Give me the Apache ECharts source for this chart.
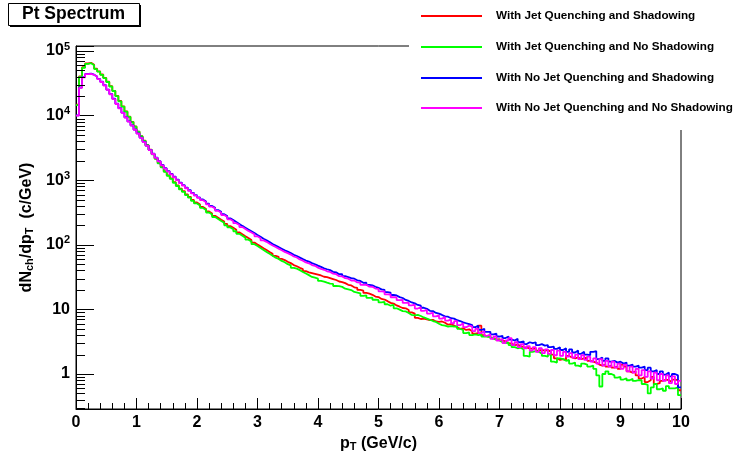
<!DOCTYPE html>
<html>
<head>
<meta charset="utf-8">
<script src="https://cdn.jsdelivr.net/npm/echarts@6/dist/echarts.min.js"></script>
<style>
html,body{margin:0;padding:0;background:#fff;}
#chart{width:737px;height:451px;}
</style>
</head>
<body>
<div id="chart"></div>
<script>
// ---- Data ----
const xMin = 0, xMax = 10, binWidth = 0.05;
const yMin = 0.287, yMax = 119400;
const seriesNames = [
  'With Jet Quenching and Shadowing',
  'With Jet Quenching and No Shadowing',
  'With No Jet Quenching and Shadowing',
  'With No Jet Quenching and No Shadowing'
];
const seriesColors = ['#ff0000', '#00ff00', '#0000ff', '#ff00ff'];
const xTickLabels = ['0','1','2','3','4','5','6','7','8','9','10'];

const redValues = [
 14800, 40500, 56000, 64000, 65500, 61000, 53300, 48500, 43200, 38400,
 33400, 28500, 24200, 20200, 16800, 13900, 11600, 9620, 8000, 6800,
 5660, 4820, 4100, 3500, 2980, 2530, 2160, 1840, 1600, 1370,
 1190, 1070, 930, 830, 742, 678, 605, 552, 494, 451,
 420, 385, 359, 328, 306, 280, 262, 244, 229, 210,
 195, 183, 171, 156, 146, 136, 127, 119, 108, 101,
 94.5, 88.5, 83, 77.5, 72.5, 67.5, 65, 60.5, 58, 54.5,
 52, 48.5, 46.5, 44, 42, 39, 37.5, 36.5, 35.5, 34.5,
 33.5, 32.0, 31.5, 30.5, 29.5, 28.5, 27.0, 26.5, 25.5, 24.0,
 23.5, 22.0, 21.5, 20.0, 19.5, 18.0, 17.5, 16.8, 15.8, 15.5,
 14.5, 14.2, 13.4, 12.6, 12.3, 11.5, 11.0, 10.5, 10.4, 9.8,
 9.0, 8.6, 7.4, 7.1, 7.2, 7.0, 6.8, 6.9, 6.5, 6.4,
 6.5, 6.2, 5.8, 5.9, 5.6, 5.3, 5.0, 5.1, 4.8, 4.9,
 4.6, 4.2, 4.3, 5.6, 4.0, 3.8, 3.9, 3.6, 3.4, 3.45,
 3.3, 3.2, 3.0, 2.95, 2.8, 2.85, 2.7, 2.6, 2.55, 2.5,
 2.45, 2.5, 2.3, 2.35, 2.3, 2.35, 2.2, 2.0, 1.75, 1.65,
 1.7, 1.65, 1.9, 1.8, 1.75, 1.8, 1.7, 1.75, 1.8, 1.6,
 1.55, 1.5, 1.4, 1.35, 1.4, 1.3, 1.35, 1.25, 1.3, 1.2,
 1.4, 1.3, 1.1, 1.05, 1.1, 0.95, 0.85, 0.9, 0.75, 0.8,
 0.9, 0.7, 0.72, 0.78, 0.82, 0.8, 0.75, 0.82, 0.8, 0.56
];
const greenValues = [
 14500, 39800, 55000, 63100, 64600, 60300, 52500, 47900, 42700, 38000,
 33100, 28200, 24000, 20000, 16600, 13800, 11500, 9550, 7940, 6760,
 5620, 4790, 4070, 3470, 2950, 2510, 2140, 1820, 1580, 1350,
 1170, 1050, 912, 813, 724, 661, 589, 537, 479, 437,
 407, 372, 347, 316, 295, 269, 251, 234, 219, 200,
 186, 174, 162, 148, 138, 129, 120, 112, 102, 95.5,
 89.1, 83.2, 77.6, 72.4, 67.6, 63.1, 60.3, 56.2, 53.7, 50.1,
 47.9, 44.0, 42.7, 40.5, 38.0, 36.0, 33.9, 31.8, 30.9, 29.9,
 27.6, 26.9, 25.9, 25.1, 24.8, 23.0, 22.9, 22.3, 20.9, 20.4,
 19.9, 18.6, 18.2, 17.7, 16.2, 16.5, 15.1, 15.2, 14.1, 14.0,
 12.8, 13.1, 12.0, 11.4, 11.8, 10.4, 9.9, 9.4, 9.3, 8.8,
 8.2, 8.1, 8.2, 7.9, 7.5, 7.2, 6.9, 6.6, 6.4, 6.0,
 5.7, 5.6, 5.4, 5.5, 5.4, 5.5, 5.0, 4.8, 4.3, 4.4,
 4.0, 4.1, 4.0, 4.1, 3.8, 3.8, 3.7, 3.5, 3.4, 3.3,
 3.1, 3.0, 3.05, 2.8, 2.6, 2.5, 2.55, 2.4, 1.9, 1.85,
 2.2, 2.25, 2.2, 2.05, 1.9, 1.85, 2.0, 1.55, 1.5, 1.75,
 1.7, 1.6, 1.65, 1.45, 1.5, 1.35, 1.3, 1.45, 1.4, 1.3,
 1.35, 1.2, 0.95, 0.64, 1.0, 1.1, 1.0, 0.95, 0.88, 0.9,
 0.82, 0.86, 0.8, 0.84, 0.78, 0.8, 0.8, 0.7, 0.68, 0.5,
 0.62, 0.7, 0.58, 0.6, 0.55, 0.65, 0.6, 0.6, 0.62, 0.47
];
const blueValues = [
 10100, 27200, 39300, 44200, 44600, 43000, 40200, 37000, 33400, 29500,
 25300, 21600, 18200, 15300, 13000, 11100, 9420, 8120, 7070, 6090,
 5300, 4570, 3930, 3420, 2950, 2570, 2240, 1970, 1720, 1530,
 1380, 1250, 1130, 1020, 918, 838, 765, 698, 637, 588,
 543, 502, 468, 433, 400, 373, 345, 323, 298, 278,
 257, 241, 225, 210, 196, 184, 172, 162, 152, 142,
 133, 124, 117, 110, 103, 97.5, 92, 87, 82, 78.5,
 74.5, 70, 67, 63.5, 60, 57, 55, 52, 50, 47.5,
 45.5, 43.2, 41.8, 40.5, 38.2, 37.4, 35.0, 35.2, 32.6, 31.6,
 30.5, 29.8, 28.2, 27.5, 25.8, 25.9, 23.9, 23.5, 22.4, 21.5,
 20.4, 20.1, 18.5, 18.2, 16.7, 16.4, 15.5, 15.0, 14.0, 13.5,
 12.8, 12.4, 11.7, 11.4, 10.6, 10.2, 9.5, 9.4, 8.8, 8.6,
 8.2, 7.8, 7.7, 7.3, 7.2, 6.8, 6.6, 6.3, 6.1, 5.9,
 5.7, 5.3, 5.6, 4.8, 5.0, 4.5, 4.5, 4.1, 4.2, 3.8,
 3.9, 3.6, 3.8, 3.4, 3.3, 3.5, 3.1, 3.2, 2.9, 3.1,
 3.0, 3.1, 2.8, 2.9, 2.75, 2.8, 2.6, 2.65, 2.45, 2.6,
 2.35, 2.5, 2.2, 2.4, 2.15, 2.3, 2.05, 2.2, 2.0, 1.95,
 2.2, 2.25, 1.7, 1.8, 1.6, 1.75, 1.55, 1.6, 1.5, 1.55,
 1.45, 1.5, 1.35, 1.4, 1.3, 1.35, 1.25, 1.3, 1.15, 1.25,
 1.1, 1.15, 1.0, 1.1, 0.98, 1.05, 0.92, 1.0, 0.95, 0.62
];
const magentaValues = [
 10000, 26900, 38900, 43700, 44200, 42700, 39800, 36700, 33100, 29200,
 25100, 21400, 18000, 15100, 12900, 11000, 9330, 8040, 7000, 6030,
 5250, 4520, 3890, 3390, 2920, 2540, 2210, 1950, 1700, 1510,
 1360, 1230, 1110, 1000, 902, 822, 750, 684, 624, 575,
 531, 490, 457, 422, 389, 363, 335, 313, 288, 269,
 248, 232, 216, 202, 188, 176, 164, 155, 145, 135,
 126, 117, 111, 104, 97.7, 92.3, 87.1, 82.2, 77.6, 74.1,
 70.5, 65.8, 63.5, 59.2, 56.8, 53.2, 51.6, 48.5, 47.2, 44.3,
 42.2, 41.0, 38.9, 37.9, 35.8, 35.0, 32.6, 32.4, 30.4, 29.9,
 28.0, 27.9, 26.1, 26.0, 24.0, 24.1, 22.5, 22.4, 21.0, 20.8,
 19.0, 18.9, 17.1, 17.0, 15.4, 15.3, 13.9, 14.0, 12.6, 12.7,
 11.5, 11.8, 10.3, 10.8, 9.5, 9.8, 8.6, 8.9, 7.8, 8.1,
 7.2, 7.6, 6.7, 7.0, 6.1, 6.6, 5.7, 6.1, 5.3, 5.6,
 5.4, 4.6, 5.0, 4.3, 4.6, 3.9, 4.1, 3.5, 3.8, 3.3,
 3.5, 3.0, 3.3, 3.6, 2.8, 3.1, 2.6, 2.9, 2.5, 2.7,
 2.3, 2.6, 2.2, 2.5, 2.1, 2.4, 2.05, 2.35, 1.95, 2.3,
 1.9, 2.2, 1.85, 2.1, 1.8, 2.0, 1.7, 1.95, 1.65, 1.85,
 1.55, 1.75, 1.45, 1.7, 1.35, 1.6, 1.3, 1.55, 1.25, 1.45,
 1.2, 1.4, 1.1, 1.3, 1.05, 1.2, 0.95, 1.15, 0.9, 1.1,
 0.85, 1.05, 0.8, 1.0, 0.78, 0.95, 0.72, 0.92, 0.7, 0.78
];
const allValues = [redValues, greenValues, blueValues, magentaValues];

// ---- Helpers ----
const FONT = "'Liberation Sans', Arial, Helvetica, sans-serif";
function toSteps(vals) {
  const d = vals.map((v, i) => [+(xMin + i * binWidth).toFixed(3), v]);
  d.push([xMax, vals[vals.length - 1]]);
  return d;
}
// minor tick values for the log axis (2..9 x 10^n)
const yMinorTicks = [];
for (let e = -1; e <= 5; e++) {
  for (let m = 2; m <= 9; m++) {
    const v = m * Math.pow(10, e);
    if (v > yMin && v < yMax) yMinorTicks.push([xMin, v]);
  }
}

const chart = echarts.init(document.getElementById('chart'), null, {renderer: 'canvas'});

const series = seriesNames.map((name, k) => ({
  name: name,
  type: 'line',
  step: 'end',
  data: toSteps(allValues[k]),
  symbol: 'none',
  showSymbol: false,
  silent: true,
  animation: false,
  lineStyle: {color: seriesColors[k], width: 1.8},
  itemStyle: {color: seriesColors[k]},
  z: 3
}));
series.push({
  type: 'custom',
  silent: true,
  animation: false,
  data: yMinorTicks,
  encode: {x: 0, y: 1},
  z: 4,
  renderItem: function (params, api) {
    const p = api.coord([api.value(0), api.value(1)]);
    const y = Math.round(p[1]) + 0.5;
    return {
      type: 'line',
      shape: {x1: p[0], y1: y, x2: p[0] + 9, y2: y},
      style: {stroke: '#000', lineWidth: 1}
    };
  }
});

const legendTops = [9, 40, 71, 101];
const legends = seriesNames.map((name, k) => ({
  data: [name],
  left: 421,
  top: legendTops[k],
  padding: 0,
  orient: 'vertical',
  icon: 'rect',
  itemWidth: 61,
  itemHeight: 2,
  selectedMode: false,
  z: 60,
  textStyle: {
    fontFamily: FONT, fontSize: 11.7, fontWeight: 'bold', color: '#000',
    lineHeight: 14, padding: [0, 0, 0, 9]
  }
}));

const option = {
  animation: false,
  backgroundColor: '#fff',
  grid: {left: 76, right: 56, top: 46, bottom: 42, show: true, borderColor: '#000', borderWidth: 1,
         containLabel: false, outerBoundsMode: 'none'},
  xAxis: {
    type: 'value', min: xMin, max: xMax, interval: 1,
    axisLine: {show: true, onZero: false, lineStyle: {color: '#000', width: 1}},
    axisTick: {show: true, inside: true, length: 11, lineStyle: {color: '#000'}},
    minorTick: {show: true, splitNumber: 5, length: 6, lineStyle: {color: '#000'}},
    splitLine: {show: false},
    axisLabel: {
      fontFamily: FONT, fontSize: 16, fontWeight: 'bold', color: '#000', margin: 6,
      formatter: function (v) { return xTickLabels[Math.round(v)] || ''; }
    },
    name: '{b|p}{s|T}{b| (GeV/c)}',
    nameLocation: 'middle', nameGap: 20,
    nameTextStyle: {
      fontFamily: FONT, color: '#000',
      rich: {
        b: {fontFamily: FONT, fontSize: 16, fontWeight: 'bold', color: '#000', lineHeight: 18},
        s: {fontFamily: FONT, fontSize: 11, fontWeight: 'bold', color: '#000', lineHeight: 8, verticalAlign: 'bottom'}
      }
    }
  },
  yAxis: {
    type: 'log', logBase: 10, min: yMin, max: yMax,
    axisLine: {show: true, lineStyle: {color: '#000', width: 1}},
    axisTick: {show: true, inside: true, length: 18, lineStyle: {color: '#000'}},
    minorTick: {show: false},
    splitLine: {show: false},
    axisLabel: {
      margin: 6, color: '#000',
      formatter: function (v) {
        const l = Math.log10(v);
        const e = Math.round(l);
        if (Math.abs(l - e) > 1e-6) return '';
        if (e === 0) return '{b|1}';
        if (e === 1) return '{b|10}';
        return '{b|10}{sup|' + e + '}';
      },
      rich: {
        b: {fontFamily: FONT, fontSize: 16, fontWeight: 'bold', color: '#000', lineHeight: 20},
        sup: {fontFamily: FONT, fontSize: 11, fontWeight: 'bold', color: '#000', lineHeight: 13, verticalAlign: 'top'}
      }
    },
    name: '{b|dN}{s|ch}{b|/dp}{s|T}{b|  (c/GeV)}{p|}',
    nameLocation: 'middle', nameGap: 38, nameRotate: 90,
    nameTextStyle: {
      fontFamily: FONT, color: '#000',
      rich: {
        b: {fontFamily: FONT, fontSize: 16, fontWeight: 'bold', color: '#000', lineHeight: 18},
        s: {fontFamily: FONT, fontSize: 11, fontWeight: 'bold', color: '#000', lineHeight: 8, verticalAlign: 'bottom'},
        p: {width: 0}
      }
    }
  },
  legend: legends,
  graphic: [
    {type: 'rect', left: 409, top: 0, shape: {width: 328, height: 130}, style: {fill: '#fff'}, z: 50, silent: true},
    {type: 'rect', left: 10, top: 5, shape: {width: 131, height: 22}, style: {fill: '#000'}, z: 50, silent: true},
    {type: 'rect', left: 8, top: 3, shape: {width: 131, height: 22}, style: {fill: '#fff', stroke: '#000', lineWidth: 1}, z: 51, silent: true},
    {type: 'text', left: 22, top: 5, z: 52, silent: true,
     style: {text: 'Pt Spectrum', fontFamily: FONT, fontSize: 17.5, fontWeight: 'bold', fill: '#000'}}
  ],
  series: series
};
chart.setOption(option);
</script>
</body>
</html>
